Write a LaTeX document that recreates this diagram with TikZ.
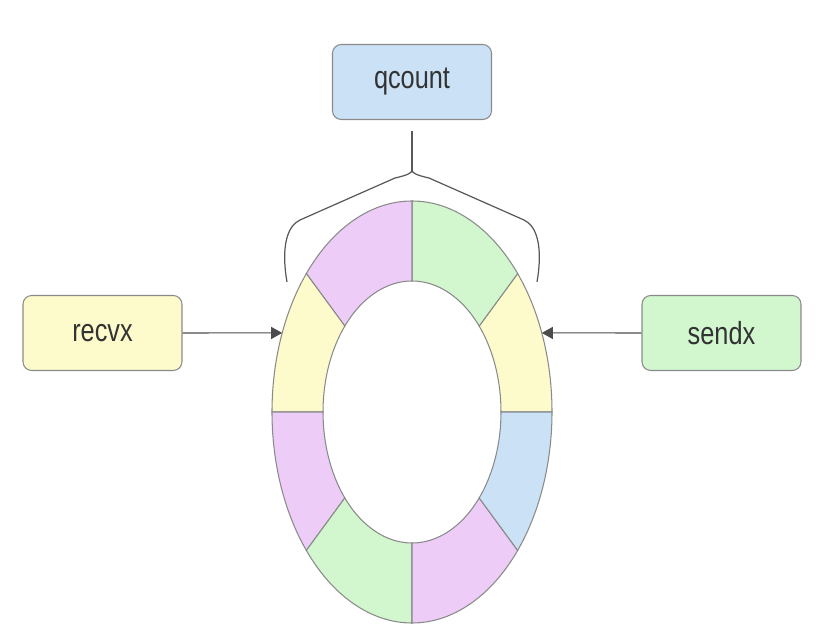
\documentclass[tikz,border=0pt]{standalone}
\usepackage{fontspec}
\setmainfont{Liberation Sans}
\usepackage{xcolor}
\usetikzlibrary{arrows.meta}
\definecolor{slotyellow}{RGB}{253,251,203}
\definecolor{slotgreen}{RGB}{210,246,206}
\definecolor{slotpurple}{RGB}{237,205,247}
\definecolor{slotblue}{RGB}{203,225,246}
\definecolor{ringgray}{RGB}{138,138,138}
\definecolor{labelgray}{RGB}{51,51,51}
\newcommand{\tallword}[1]{\scalebox{1}[1.26]{#1}}

\begin{document}
\begin{tikzpicture}[
    box/.style={draw=ringgray, line width=0.6pt, rounded corners=5pt,
      minimum width=3.18cm, minimum height=1.5cm,
      text=labelgray, font=\fontsize{14.4}{17}\selectfont},
    pointer/.style={draw=black!70, line width=0.6pt, -{Triangle[length=2.2mm, width=2.4mm]}},
    brace/.style={draw=black!65, line width=0.7pt, line join=round}]
    \useasboundingbox (-8.24,-4.58) rectangle (8.42,8.24);

    % Ring buffer slots
    \foreach \a/\b/\c in {0/41/slotyellow, 41/90/slotgreen, 90/139/slotpurple,
        139/180/slotyellow, 180/221/slotpurple, 221/270/slotgreen,
        270/319/slotpurple, 319/360/slotblue} {
      \filldraw[fill=\c, draw=ringgray, line width=0.6pt]
        (\a:2.8 and 4.22) arc[start angle=\a, end angle=\b, x radius=2.8, y radius=4.22]
        -- (\b:1.78 and 2.62) arc[start angle=\b, end angle=\a, x radius=1.78, y radius=2.62]
        -- cycle;
    }
    \coordinate (recvin) at (158:2.8 and 4.22);
    \coordinate (sendin) at (22:2.8 and 4.22);

    % Index boxes
    \node[box, fill=slotyellow] (recvx) at (-6.19,1.58) {\tallword{recvx}};
    \node[box, fill=slotgreen] (sendx) at (6.19,1.58) {\tallword{sendx}};
    \node[box, fill=slotblue] (qcount) at (0,6.6) {\tallword{qcount}};

    \draw[pointer] (recvx) -- (recvin);
    \draw[pointer] (sendx) -- (sendin);

    % Brace over the filled slots
    \coordinate (cusp) at (0,4.84);
    \draw[brace] ([yshift=-0.22cm]qcount.south) -- (cusp);
    \draw[brace] (-2.5,2.6) .. controls (-2.62,3.3) and (-2.5,3.72) .. (-2.24,3.84)
      -- (-0.34,4.68) .. controls (-0.08,4.74) and (0,4.78) .. (cusp)
      .. controls (0,4.78) and (0.08,4.74) .. (0.34,4.68)
      -- (2.24,3.84) .. controls (2.5,3.72) and (2.62,3.3) .. (2.5,2.6);
\end{tikzpicture}
\end{document}
